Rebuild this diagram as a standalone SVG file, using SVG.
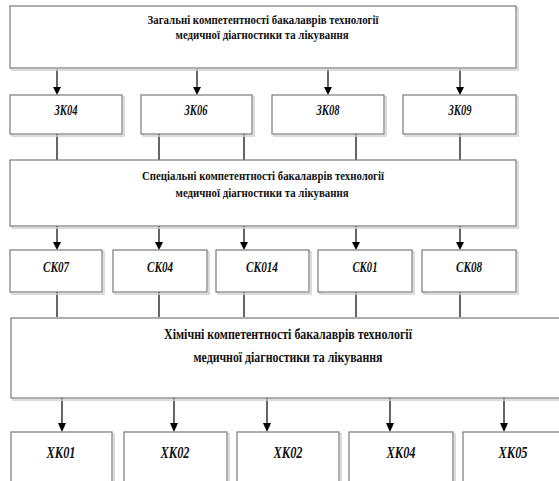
<svg xmlns="http://www.w3.org/2000/svg" width="559" height="481" viewBox="0 0 559 481">
<defs>
<style>
.sh{fill:none;stroke:#d0d0d0;stroke-width:1.5}
.bx{fill:#fff;stroke:#7a7a7a;stroke-width:1.2}
.t{font-family:"Liberation Serif","Times New Roman",serif;font-weight:bold;fill:#111;text-anchor:middle}
.h{font-size:12.5px}
.h3{font-size:15px}
.l{font-style:italic;font-size:14px}
.l3{font-style:italic;font-size:16px}
.c{stroke:#000;stroke-width:1.2;fill:none}
</style>
</defs>
<rect width="559" height="481" fill="#fff"/>

<g id="connectors">
<path class="c" d="M57,69 V93 M197,69 V93 M328,69 V93 M460,69 V93"/>
<path class="c" d="M57,134 V160 M159,134 V160 M244,134 V160 M356,134 V160 M460,134 V160"/>
<path class="c" d="M57,226 V248 M159,226 V248 M244,226 V248 M356,226 V248 M460,226 V248"/>
<path class="c" d="M57,292 V317 M159,292 V317 M244,292 V317 M356,292 V317 M460,292 V317"/>
<path class="c" d="M62,398 V430 M174,398 V430 M267,398 V430 M390,398 V430 M504,398 V430"/>
<g fill="#000">
<path d="M53,87 H61 L57,95 Z"/><path d="M193,87 H201 L197,95 Z"/><path d="M324,87 H332 L328,95 Z"/><path d="M456,87 H464 L460,95 Z"/>
<path d="M53,242 H61 L57,250 Z"/><path d="M155,242 H163 L159,250 Z"/><path d="M240,242 H248 L244,250 Z"/><path d="M352,242 H360 L356,250 Z"/><path d="M456,242 H464 L460,250 Z"/>
<path d="M58,423 H66 L62,432 Z"/><path d="M170,423 H178 L174,432 Z"/><path d="M263,423 H271 L267,432 Z"/><path d="M386,423 H394 L390,432 Z"/><path d="M500,423 H508 L504,432 Z"/>
</g>
</g>

<g id="gen">
<rect class="sh" x="12" y="8" width="506" height="62"/>
<rect class="bx" x="10" y="6" width="506" height="62"/>
<text class="t h" x="263" y="24" textLength="231" lengthAdjust="spacingAndGlyphs">Загальні компетентності бакалаврів технології</text>
<text class="t h" x="262" y="39" textLength="173" lengthAdjust="spacingAndGlyphs">медичної діагностики та лікування</text>
</g>

<g id="zk04"><rect class="sh" x="12" y="97" width="112" height="39"/><rect class="bx" x="10" y="95" width="112" height="39"/><text class="t l" x="66" y="115" textLength="23" lengthAdjust="spacingAndGlyphs">ЗК04</text></g>
<g id="zk06"><rect class="sh" x="143" y="97" width="111" height="39"/><rect class="bx" x="141" y="95" width="111" height="39"/><text class="t l" x="196" y="115" textLength="23" lengthAdjust="spacingAndGlyphs">ЗК06</text></g>
<g id="zk08"><rect class="sh" x="274" y="97" width="112" height="39"/><rect class="bx" x="272" y="95" width="112" height="39"/><text class="t l" x="328" y="115" textLength="23" lengthAdjust="spacingAndGlyphs">ЗК08</text></g>
<g id="zk09"><rect class="sh" x="405" y="97" width="113" height="39"/><rect class="bx" x="403" y="95" width="113" height="39"/><text class="t l" x="460" y="115" textLength="23" lengthAdjust="spacingAndGlyphs">ЗК09</text></g>

<g id="spec">
<rect class="sh" x="12" y="162" width="506" height="66"/>
<rect class="bx" x="10" y="160" width="506" height="66"/>
<text class="t h" x="263" y="180" textLength="242" lengthAdjust="spacingAndGlyphs">Спеціальні компетентності бакалаврів технології</text>
<text class="t h" x="262" y="197" textLength="173" lengthAdjust="spacingAndGlyphs">медичної діагностики та лікування</text>
</g>

<g id="sk07"><rect class="sh" x="12" y="252" width="92" height="42"/><rect class="bx" x="10" y="250" width="92" height="42"/><text class="t l" x="56" y="272" textLength="26" lengthAdjust="spacingAndGlyphs">СК07</text></g>
<g id="sk04"><rect class="sh" x="115" y="252" width="94" height="42"/><rect class="bx" x="113" y="250" width="94" height="42"/><text class="t l" x="160" y="272" textLength="26" lengthAdjust="spacingAndGlyphs">СК04</text></g>
<g id="sk014"><rect class="sh" x="218" y="252" width="93" height="42"/><rect class="bx" x="216" y="250" width="93" height="42"/><text class="t l" x="262" y="272" textLength="32" lengthAdjust="spacingAndGlyphs">СК014</text></g>
<g id="sk01"><rect class="sh" x="320" y="252" width="94" height="42"/><rect class="bx" x="318" y="250" width="94" height="42"/><text class="t l" x="365" y="272" textLength="25" lengthAdjust="spacingAndGlyphs">СК01</text></g>
<g id="sk08"><rect class="sh" x="424" y="252" width="94" height="42"/><rect class="bx" x="422" y="250" width="94" height="42"/><text class="t l" x="469" y="272" textLength="26" lengthAdjust="spacingAndGlyphs">СК08</text></g>

<g id="chem">
<rect class="sh" x="13" y="320" width="560" height="80"/>
<rect class="bx" x="11" y="318" width="560" height="80"/>
<text class="t h3" x="288" y="339" textLength="248" lengthAdjust="spacingAndGlyphs">Хімічні компетентності бакалаврів технології</text>
<text class="t h3" x="288" y="362" textLength="189" lengthAdjust="spacingAndGlyphs">медичної діагностики та лікування</text>
</g>

<g id="hk01"><rect class="sh" x="13" y="434" width="101" height="70"/><rect class="bx" x="11" y="432" width="101" height="70"/><text class="t l3" x="61" y="458" textLength="29" lengthAdjust="spacingAndGlyphs">ХК01</text></g>
<g id="hk02a"><rect class="sh" x="126" y="434" width="103" height="70"/><rect class="bx" x="124" y="432" width="103" height="70"/><text class="t l3" x="175" y="458" textLength="29" lengthAdjust="spacingAndGlyphs">ХК02</text></g>
<g id="hk02b"><rect class="sh" x="239" y="434" width="102" height="70"/><rect class="bx" x="237" y="432" width="102" height="70"/><text class="t l3" x="288" y="458" textLength="29" lengthAdjust="spacingAndGlyphs">ХК02</text></g>
<g id="hk04"><rect class="sh" x="351" y="434" width="104" height="70"/><rect class="bx" x="349" y="432" width="104" height="70"/><text class="t l3" x="401" y="458" textLength="29" lengthAdjust="spacingAndGlyphs">ХК04</text></g>
<g id="hk05"><rect class="sh" x="465" y="434" width="112" height="70"/><rect class="bx" x="463" y="432" width="112" height="70"/><text class="t l3" x="513" y="458" textLength="29" lengthAdjust="spacingAndGlyphs">ХК05</text></g>
</svg>
